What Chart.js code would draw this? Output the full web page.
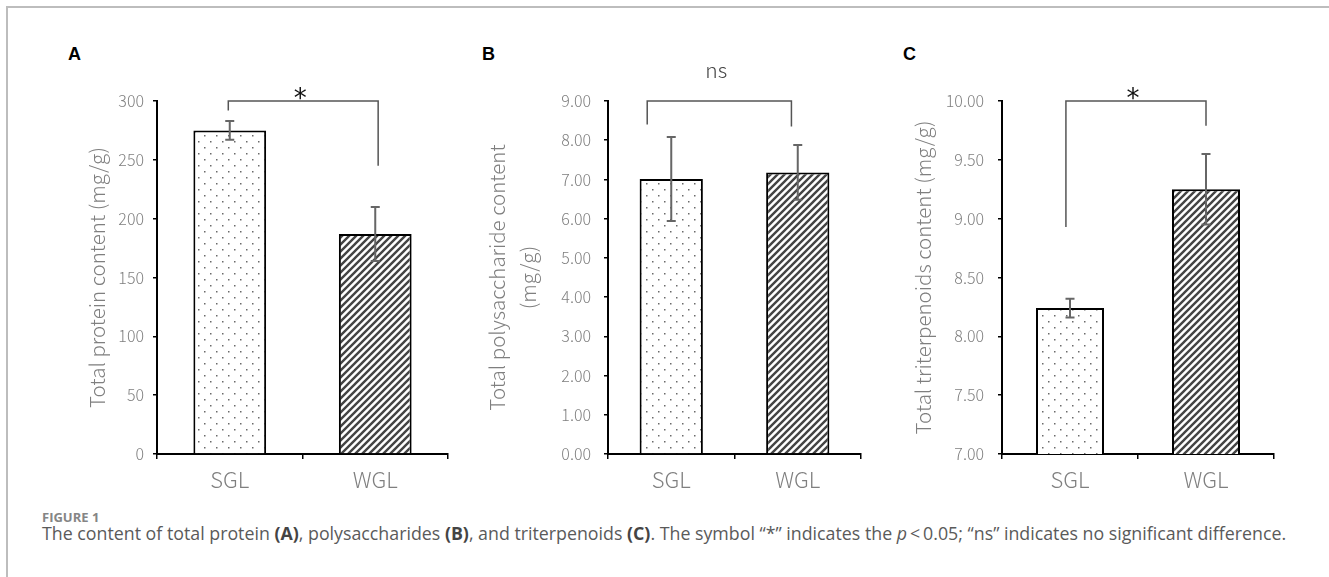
<!DOCTYPE html>
<html>
<head>
<meta charset="utf-8">
<script src="https://cdn.jsdelivr.net/npm/chart.js@4.4.1/dist/chart.umd.min.js"></script>
<style>
  body { margin: 0; background: #fff; width: 1329px; height: 577px; position: relative; overflow: hidden; }
  .frame { position: absolute; left: 6px; top: 6px; width: 1330px; height: 580px;
           border-top: 2px solid #bdbdbd; border-left: 2px solid #bdbdbd; }
  .panel { position: absolute; top: 55px; }
  .letter { position: absolute; top: 45px; font: bold 18px "Liberation Sans", Arial, sans-serif; line-height: 18px; color: #000; }
  .figno { position: absolute; left: 42px; top: 510px; font: bold 13px "Open Sans", sans-serif; line-height: 1.2; color: #858585; }
  .caption { position: absolute; left: 42px; top: 523px; font: 17.8px "Open Sans", sans-serif; line-height: 1.2; color: #5a5a5a; white-space: nowrap; }
  .caption b { color: #444; font-weight: 700; }
</style>
</head>
<body>
<div class="frame"></div>
<div class="letter" style="left:68px">A</div>
<div class="letter" style="left:482px">B</div>
<div class="letter" style="left:903px">C</div>
<canvas id="chartA" class="panel" style="left:40px" width="420" height="445"></canvas>
<canvas id="chartB" class="panel" style="left:470px" width="410" height="445"></canvas>
<canvas id="chartC" class="panel" style="left:890px" width="420" height="445"></canvas>
<div class="figno">FIGURE 1</div>
<div class="caption">The content of total protein <b>(A)</b>, polysaccharides <b>(B)</b>, and triterpenoids <b>(C)</b>. The symbol “*” indicates the <i>p</i>&thinsp;&lt;&thinsp;0.05; “ns” indicates no significant difference.</div>
<script>
// DATA
const categories = ['SGL', 'WGL'];

const proteinMeans = [275, 187];
const proteinErrors = [8, 23];
const proteinTicks = [0, 50, 100, 150, 200, 250, 300];
const proteinBracketEnds = [292, 245];

const polysaccharideMeans = [7.01, 7.18];
const polysaccharideErrors = [1.07, 0.70];
const polysaccharideTicks = [0, 1, 2, 3, 4, 5, 6, 7, 8, 9];
const polysaccharideBracketEnds = [8.4, 8.35];

const triterpenoidMeans = [8.24, 9.25];
const triterpenoidErrors = [0.08, 0.30];
const triterpenoidTicks = [7, 7.5, 8, 8.5, 9, 9.5, 10];
const triterpenoidBracketEnds = [8.93, 9.79];

const sigLabels = ['*', 'ns', '*'];

// STYLE
const LABEL_GREY = '#7f7f7f';
const FONT = '"Noto Sans CJK SC", "Noto Sans", sans-serif';
Chart.defaults.font.family = FONT;
Chart.defaults.animation = false;

// fill patterns for the two groups
function dotPattern() {
  const c = document.createElement('canvas');
  c.width = 12; c.height = 12;
  const g = c.getContext('2d');
  g.fillStyle = '#fff';
  g.fillRect(0, 0, 12, 12);
  g.fillStyle = '#6a6a6a';
  g.fillRect(2, 2, 1.5, 1.5);
  g.fillRect(8, 8, 1.5, 1.5);
  return g.createPattern(c, 'repeat');
}

function hatchPattern() {
  const s = 7;
  const c = document.createElement('canvas');
  c.width = s; c.height = s;
  const g = c.getContext('2d');
  g.fillStyle = '#fff';
  g.fillRect(0, 0, s, s);
  g.strokeStyle = '#444';
  g.lineWidth = 2.4;
  g.beginPath();
  g.moveTo(-1, s + 1); g.lineTo(s + 1, -1);
  g.moveTo(-1, 1); g.lineTo(1, -1);
  g.moveTo(s - 1, s + 1); g.lineTo(s + 1, s - 1);
  g.stroke();
  return g.createPattern(c, 'repeat');
}

// error bars, bracket and significance label
const extrasPlugin = {
  id: 'extras',
  afterDatasetsDraw(chart, args, opts) {
    const ctx = chart.ctx;
    const xs = chart.scales.x, ys = chart.scales.y;
    const bars = chart.getDatasetMeta(0).data;

    ctx.save();
    ctx.strokeStyle = '#666';
    ctx.lineWidth = 2;
    opts.errors.forEach((e, i) => {
      const cx = bars[i].x;
      const t = ys.getPixelForValue(opts.means[i] + e);
      const b = ys.getPixelForValue(opts.means[i] - e);
      ctx.beginPath();
      ctx.moveTo(cx, t); ctx.lineTo(cx, b);
      ctx.moveTo(cx - 4.5, t); ctx.lineTo(cx + 4.5, t);
      ctx.moveTo(cx - 4.5, b); ctx.lineTo(cx + 4.5, b);
      ctx.stroke();
    });

    const by = ys.getPixelForValue(ys.max);
    const lx = xs.getPixelForValue(0 + opts.shift[0]);
    const rx = xs.getPixelForValue(1 + opts.shift[1]);
    ctx.strokeStyle = '#555';
    ctx.lineWidth = 1.5;
    ctx.beginPath();
    ctx.moveTo(lx, ys.getPixelForValue(opts.ends[0]));
    ctx.lineTo(lx, by);
    ctx.lineTo(rx, by);
    ctx.lineTo(rx, ys.getPixelForValue(opts.ends[1]));
    ctx.stroke();

    const mx = (lx + rx) / 2 - 3;
    ctx.textAlign = 'center';
    ctx.textBaseline = 'alphabetic';
    if (opts.label === '*') {
      ctx.fillStyle = '#111';
      ctx.font = '26px "DejaVu Sans", sans-serif';
      ctx.fillText(opts.label, mx, by + 6);
    } else {
      ctx.fillStyle = '#444';
      ctx.font = '300 21px ' + FONT;
      ctx.fillText(opts.label, mx, by - 23);
    }
    ctx.restore();
  }
};

function makePanel(id, p) {
  const ctx = document.getElementById(id).getContext('2d');
  return new Chart(ctx, {
    type: 'bar',
    data: {
      labels: categories,
      datasets: [{
        data: p.means,
        backgroundColor: [dotPattern(), hatchPattern()],
        borderColor: '#000',
        borderWidth: 2,
        barPercentage: 0.5,
        categoryPercentage: 1
      }]
    },
    options: {
      responsive: false,
      devicePixelRatio: 1,
      layout: { padding: { top: 46, right: p.padRight, bottom: 0, left: 0 } },
      plugins: {
        legend: { display: false },
        tooltip: { enabled: false },
        extras: { means: p.means, errors: p.errors, ends: p.ends, shift: p.shift, label: p.label }
      },
      scales: {
        x: {
          afterFit: s => { s.height = 46; },
          grid: { offset: true, drawOnChartArea: false, drawTicks: true, tickLength: 5, color: '#000', lineWidth: 1.5 },
          border: { display: true, color: '#000', width: 2 },
          ticks: { color: LABEL_GREY, padding: 7, font: { size: 22, weight: '300' } }
        },
        y: {
          min: p.ticks[0],
          max: p.ticks[p.ticks.length - 1],
          afterFit: s => { s.width = p.axisWidth; },
          afterBuildTicks: s => { s.ticks = p.ticks.map(v => ({ value: v })); },
          grid: { drawOnChartArea: false, drawTicks: true, tickLength: 4, color: '#000', lineWidth: 1.5 },
          border: { display: true, color: '#000', width: 2 },
          ticks: {
            color: LABEL_GREY,
            padding: p.tickPad,
            font: { size: 16, weight: '300' },
            callback: v => p.decimals ? Number(v).toFixed(p.decimals) : String(v)
          },
          title: {
            display: true,
            text: p.title,
            color: LABEL_GREY,
            font: { size: 20.5, weight: '300', lineHeight: 1.5 },
            padding: { top: p.titlePad, bottom: 0 }
          }
        }
      }
    },
    plugins: [extrasPlugin]
  });
}

makePanel('chartA', {
  means: proteinMeans, errors: proteinErrors, ticks: proteinTicks, ends: proteinBracketEnds,
  label: sigLabels[0], decimals: 0, title: 'Total protein content (mg/g)',
  axisWidth: 117, padRight: 12, tickPad: 9, titlePad: 42, shift: [-0.01, 0.02]
});

makePanel('chartB', {
  means: polysaccharideMeans, errors: polysaccharideErrors, ticks: polysaccharideTicks, ends: polysaccharideBracketEnds,
  label: sigLabels[1], decimals: 2, title: ['Total polysaccharide content', '(mg/g)'],
  axisWidth: 138, padRight: 19, tickPad: 13, titlePad: 12, shift: [-0.19, -0.05]
});

makePanel('chartC', {
  means: triterpenoidMeans, errors: triterpenoidErrors, ticks: triterpenoidTicks, ends: triterpenoidBracketEnds,
  label: sigLabels[2], decimals: 2, title: 'Total triterpenoids content (mg/g)',
  axisWidth: 112, padRight: 36, tickPad: 14, titlePad: 18, shift: [-0.03, 0.0]
});
</script>
</body>
</html>
